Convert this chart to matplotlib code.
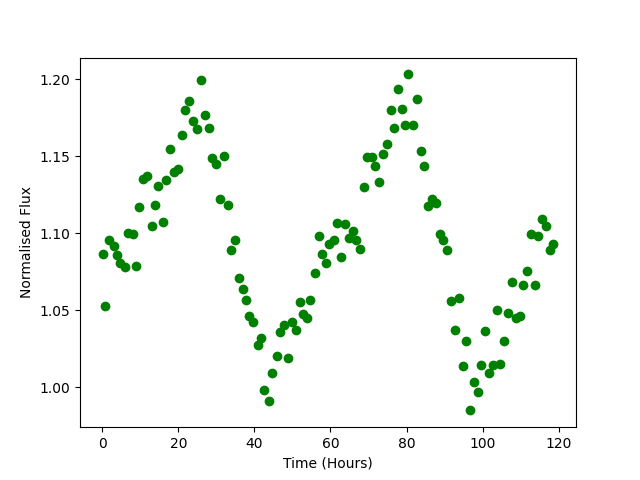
import matplotlib
matplotlib.use('Agg')
import matplotlib.pyplot as plt

# Time (hours) and normalised flux
time_hours = [
    0.1, 0.8, 1.8, 3.0, 4.0, 4.7, 5.9, 6.8, 8.0, 9.0,
    9.8, 10.7, 11.9, 13.0, 14.0, 14.8, 15.9, 16.9, 17.9, 18.9,
    19.9, 20.9, 21.8, 22.9, 23.8, 24.8, 25.9, 26.9, 28.0, 28.8,
    29.8, 30.9, 31.9, 33.0, 33.8, 34.8, 35.9, 36.9, 37.8, 38.6,
    39.7, 40.9, 41.8, 42.6, 43.8, 44.7, 45.9, 46.8, 47.7, 48.8,
    49.8, 50.9, 51.9, 52.7, 53.8, 54.7, 55.9, 56.9, 57.7, 58.8,
    59.7, 60.9, 61.6, 62.7, 63.8, 64.8, 65.9, 66.7, 67.7, 68.8,
    69.7, 70.9, 71.7, 72.7, 73.8, 74.8, 75.9, 76.7, 77.7, 78.8,
    79.7, 80.5, 81.7, 82.7, 83.7, 84.7, 85.6, 86.6, 87.8, 88.7,
    89.7, 90.6, 91.7, 92.7, 93.8, 94.8, 95.6, 96.6, 97.7, 98.8,
    99.6, 100.6, 101.6, 102.7, 103.8, 104.6, 105.6, 106.7, 107.7, 108.7,
    109.7, 110.6, 111.7, 112.6, 113.8, 114.6, 115.6, 116.7, 117.7, 118.6,
]
flux = [
    1.0868, 1.0530, 1.0953, 1.0916, 1.0857, 1.0807, 1.0784, 1.1002, 1.0994, 1.0786,
    1.1169, 1.1351, 1.1370, 1.1045, 1.1180, 1.1305, 1.1076, 1.1344, 1.1543, 1.1398,
    1.1418, 1.1634, 1.1797, 1.1855, 1.1727, 1.1673, 1.1991, 1.1764, 1.1680, 1.1487,
    1.1452, 1.1221, 1.1504, 1.1180, 1.0894, 1.0959, 1.0712, 1.0641, 1.0565, 1.0466,
    1.0424, 1.0277, 1.0323, 0.9981, 0.9909, 1.0096, 1.0201, 1.0362, 1.0407, 1.0190,
    1.0424, 1.0370, 1.0552, 1.0478, 1.0453, 1.0565, 1.0745, 1.0979, 1.0864, 1.0805,
    1.0929, 1.0959, 1.1069, 1.0849, 1.1057, 1.0966, 1.1013, 1.0953, 1.0900, 1.1299,
    1.1494, 1.1494, 1.1433, 1.1329, 1.1517, 1.1578, 1.1797, 1.1680, 1.1933, 1.1803,
    1.1700, 1.2030, 1.1700, 1.1868, 1.1530, 1.1433, 1.1178, 1.1225, 1.1199, 1.0994,
    1.0959, 1.0894, 1.0558, 1.0370, 1.0582, 1.0136, 1.0303, 0.9851, 1.0037, 0.9968,
    1.0147, 1.0364, 1.0096, 1.0143, 1.0504, 1.0154, 1.0303, 1.0485, 1.0686, 1.0453,
    1.0466, 1.0667, 1.0758, 1.0998, 1.0667, 1.0985, 1.1091, 1.1050, 1.0888, 1.0929,
]

fig, ax = plt.subplots(figsize=(6.4, 4.8), dpi=100)
ax.plot(time_hours, flux, 'o', color='green')
ax.set_xlabel('Time (Hours)')
ax.set_ylabel('Normalised Flux')

fig.savefig('out.png')
